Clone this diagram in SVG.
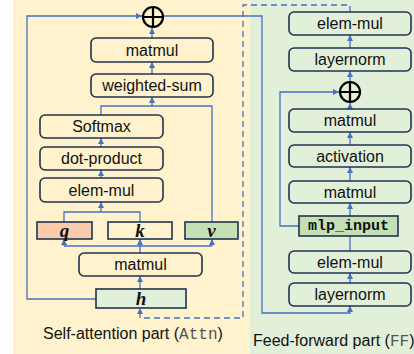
<svg xmlns="http://www.w3.org/2000/svg" width="414" height="354" viewBox="0 0 414 354">
<style>
.box{stroke:#1F3350;stroke-width:1.6}
.rb{fill:none}
.lbl{font-family:"Liberation Sans",Arial,sans-serif;font-size:16px;fill:#111;text-anchor:middle;dominant-baseline:central}
.var{font-family:"Liberation Serif","Times New Roman",serif;font-size:19px;font-weight:bold;font-style:italic;fill:#111;text-anchor:middle;dominant-baseline:central}
.mono{font-family:"Liberation Mono","Courier New",monospace;font-weight:bold;font-size:15px;fill:#111;text-anchor:middle;dominant-baseline:central}
.cap{font-family:"Liberation Sans",Arial,sans-serif;font-size:16px;fill:#111}
.cm{font-family:"Liberation Mono","Courier New",monospace;fill:#555}
.c{fill:none;stroke:#4472C4;stroke-width:1.3}
.a{marker-end:url(#ah)}
.dash{stroke-dasharray:6 4}
.plus{fill:none;stroke:#000;stroke-width:2.2}
</style>
<defs>
<marker id="ah" markerUnits="userSpaceOnUse" markerWidth="7" markerHeight="7" refX="6" refY="3.5" orient="auto">
<path d="M0,0.5 L6,3.5 L0,6.5 z" fill="#4472C4"/>
</marker>
</defs>
<rect x="0" y="0" width="414" height="354" fill="#fff"/>
<rect x="13" y="0" width="237" height="354" fill="#FFF2CC"/>
<rect x="250" y="0" width="164" height="354" fill="#E2EFD9"/>

<g id="connectors">
<path class="c a" d="M96,299 H27 V16 H142"/>
<path class="c a" d="M152,38 V28"/>
<path class="c a" d="M152,74 V62"/>
<path class="c" d="M101,115 V106 H212 V222"/>
<path class="c a" d="M152,106 V97"/>
<path class="c a" d="M101,147 V138"/>
<path class="c a" d="M101,178 V170"/>
<path class="c" d="M64,222 V212 H140 V222"/>
<path class="c a" d="M101,212 V202"/>
<path class="c" d="M140,253 V246 M64,246 H212"/>
<path class="c a" d="M64,246 V239"/>
<path class="c a" d="M140,246 V239"/>
<path class="c a" d="M212,246 V239"/>
<path class="c a" d="M140,289 V276"/>
<path class="c a" d="M163,16 H262 V313 H350 V306"/>
<path class="c a dash" d="M350,12 V5 H243 V318 H140 V308"/>
<path class="c a" d="M350,283 V273"/>
<path class="c" d="M350,251 V236"/>
<path class="c a" d="M350,216 V203"/>
<path class="c a" d="M350,181 V167"/>
<path class="c a" d="M350,145 V132"/>
<path class="c a" d="M350,109 V103"/>
<path class="c a" d="M350,82 V71"/>
<path class="c a" d="M350,48 V35"/>
<path class="c a" d="M299,226 H280 V92 H339"/>
</g>

<g id="attn-add"><circle class="plus" cx="153" cy="17" r="10"/><path class="plus" stroke-width="2.6" d="M143,17 H163 M153,7 V27"/></g>
<g id="attn-matmul-out"><rect class="box rb" x="91" y="38" width="122" height="24" rx="5"/><text class="lbl" x="152" y="50">matmul</text></g>
<g id="weighted-sum"><rect class="box rb" x="91" y="74" width="122" height="23" rx="5"/><text class="lbl" x="152" y="85.5">weighted-sum</text></g>
<g id="softmax"><rect class="box rb" x="40" y="115" width="123" height="23" rx="5"/><text class="lbl" x="101.5" y="126.5">Softmax</text></g>
<g id="dot-product"><rect class="box rb" x="40" y="147" width="123" height="23" rx="5"/><text class="lbl" x="101.5" y="158.5">dot-product</text></g>
<g id="attn-elem-mul"><rect class="box rb" x="40" y="178" width="123" height="24" rx="5"/><text class="lbl" x="101.5" y="190">elem-mul</text></g>
<g id="q"><rect class="box" x="37" y="222" width="55" height="17" fill="#F8CBAD"/><text class="var" x="64.5" y="230.5">q</text></g>
<g id="k"><rect class="box" x="108" y="222" width="64" height="17" fill="#FFF2CC"/><text class="var" x="140" y="230.5">k</text></g>
<g id="v"><rect class="box" x="185" y="222" width="53" height="17" fill="#C5E0B4"/><text class="var" x="211.5" y="230.5">v</text></g>
<g id="attn-matmul-in"><rect class="box rb" x="79" y="253" width="123" height="23" rx="5"/><text class="lbl" x="140.5" y="264.5">matmul</text></g>
<g id="h"><rect class="box" x="96" y="289" width="90" height="19" fill="#E2EFDA"/><text class="var" x="141" y="298.5">h</text></g>

<g id="ff-elem-mul-out"><rect class="box rb" x="289" y="12" width="122" height="23" rx="5"/><text class="lbl" x="350" y="23.5">elem-mul</text></g>
<g id="ff-layernorm-out"><rect class="box rb" x="289" y="48" width="122" height="23" rx="5"/><text class="lbl" x="350" y="59.5">layernorm</text></g>
<g id="ff-add"><circle class="plus" cx="350" cy="92" r="10"/><path class="plus" stroke-width="2.6" d="M340,92 H360 M350,82 V102"/></g>
<g id="ff-matmul2"><rect class="box rb" x="289" y="109" width="122" height="23" rx="5"/><text class="lbl" x="350" y="120.5">matmul</text></g>
<g id="activation"><rect class="box rb" x="289" y="145" width="122" height="22" rx="5"/><text class="lbl" x="350" y="156">activation</text></g>
<g id="ff-matmul1"><rect class="box rb" x="289" y="181" width="122" height="22" rx="5"/><text class="lbl" x="350" y="192">matmul</text></g>
<g id="mlp_input"><rect class="box" x="299" y="216" width="99" height="20" fill="#C5E0B4"/><text class="mono" x="348.5" y="226">mlp_input</text></g>
<g id="ff-elem-mul-in"><rect class="box rb" x="289" y="251" width="122" height="22" rx="5"/><text class="lbl" x="350" y="262">elem-mul</text></g>
<g id="ff-layernorm-in"><rect class="box rb" x="289" y="283" width="122" height="23" rx="5"/><text class="lbl" x="350" y="294.5">layernorm</text></g>

<text class="cap" x="43" y="339">Self-attention part (<tspan class="cm">Attn</tspan>)</text>
<text class="cap" x="253" y="346">Feed-forward part (<tspan class="cm">FF</tspan>)</text>
</svg>
